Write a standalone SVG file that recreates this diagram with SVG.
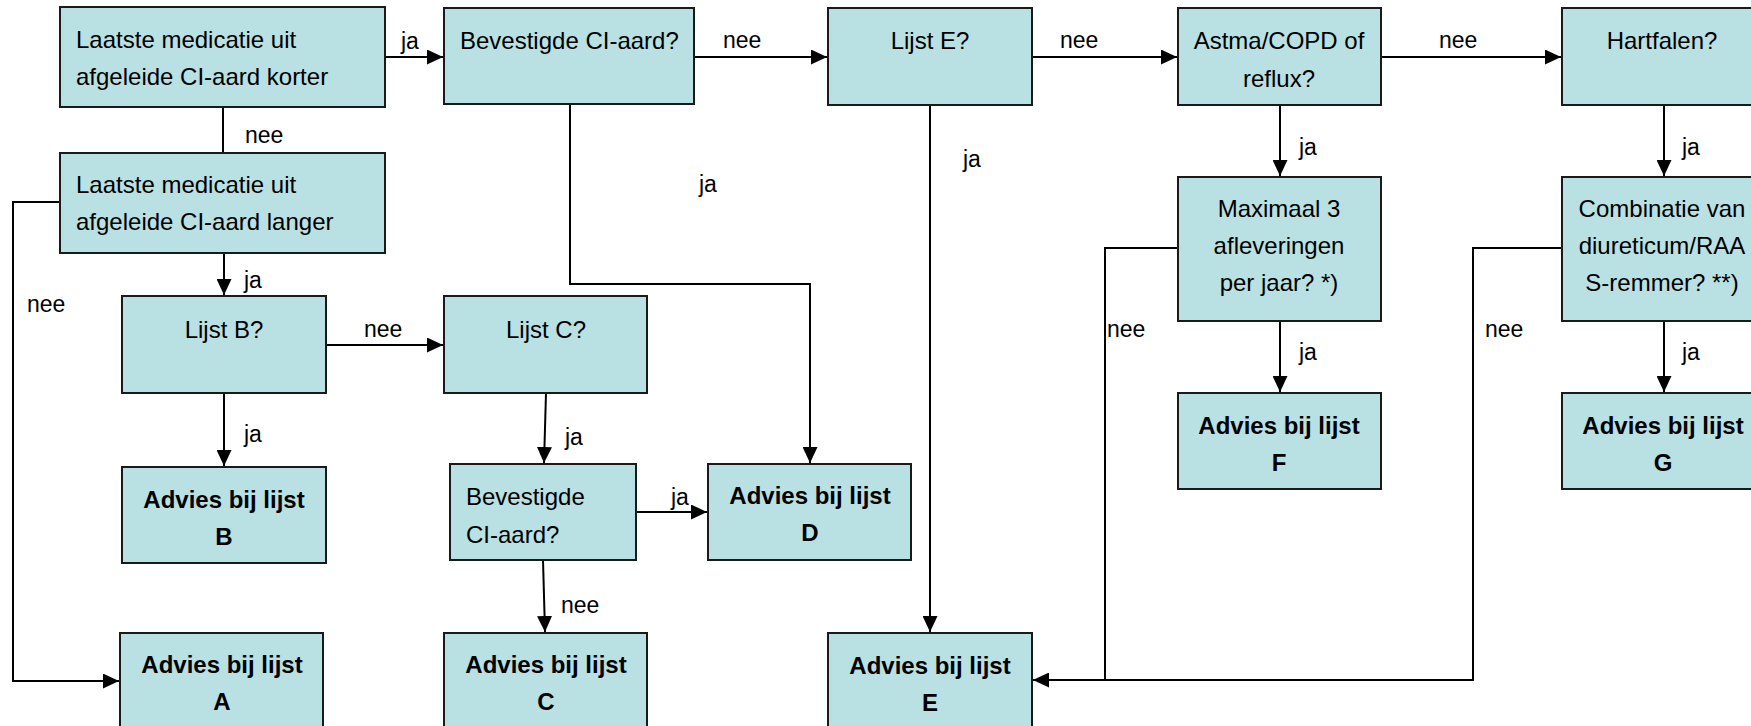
<svg xmlns="http://www.w3.org/2000/svg" width="1751" height="726" viewBox="0 0 1751 726">
<style>
.box{fill:#B9E0E3;stroke:#1a1a1a;stroke-width:2}
.t{font-family:"Liberation Sans",Arial,sans-serif;font-size:24px;fill:#000}
.c{text-anchor:middle}
.b{font-weight:bold}
.ln{fill:none;stroke:#000;stroke-width:2}
.lbl{font-family:"Liberation Sans",Arial,sans-serif;font-size:23px;fill:#000}
</style>
<defs>
<marker id="ah" markerUnits="userSpaceOnUse" markerWidth="17" markerHeight="15" refX="16" refY="7.5" orient="auto">
<path d="M0,0 L16,7.5 L0,15 z" fill="#000"/>
</marker>
</defs>
<rect width="1751" height="726" fill="#fff"/>

<g id="connectors">
<path class="ln" d="M385,57 H443" marker-end="url(#ah)"/>
<path class="ln" d="M223,107 V153"/>
<path class="ln" d="M694,57 H827" marker-end="url(#ah)"/>
<path class="ln" d="M1032,57 H1177" marker-end="url(#ah)"/>
<path class="ln" d="M1381,57 H1561" marker-end="url(#ah)"/>
<path class="ln" d="M1280,105 V176" marker-end="url(#ah)"/>
<path class="ln" d="M1664,105 V176" marker-end="url(#ah)"/>
<path class="ln" d="M1280,321 V392" marker-end="url(#ah)"/>
<path class="ln" d="M1664,321 V392" marker-end="url(#ah)"/>
<path class="ln" d="M1178,248 H1105 V680 H1033" marker-end="url(#ah)"/>
<path class="ln" d="M1562,248 H1473 V680 H1105"/>
<path class="ln" d="M930,105 V632" marker-end="url(#ah)"/>
<path class="ln" d="M570,104 V284 H810 V463" marker-end="url(#ah)"/>
<path class="ln" d="M224,253 V295" marker-end="url(#ah)"/>
<path class="ln" d="M60,202 H13 V681 H119" marker-end="url(#ah)"/>
<path class="ln" d="M326,345 H443" marker-end="url(#ah)"/>
<path class="ln" d="M224,393 V466" marker-end="url(#ah)"/>
<path class="ln" d="M546,393 L544,463" marker-end="url(#ah)"/>
<path class="ln" d="M636,512 H707" marker-end="url(#ah)"/>
<path class="ln" d="M543,560 L545,632" marker-end="url(#ah)"/>
<text class="lbl" x="401" y="49">ja</text>
<text class="lbl" x="245" y="143">nee</text>
<text class="lbl" x="723" y="48">nee</text>
<text class="lbl" x="1060" y="48">nee</text>
<text class="lbl" x="1439" y="48">nee</text>
<text class="lbl" x="1299" y="155">ja</text>
<text class="lbl" x="1682" y="155">ja</text>
<text class="lbl" x="1299" y="360">ja</text>
<text class="lbl" x="1682" y="360">ja</text>
<text class="lbl" x="1107" y="337">nee</text>
<text class="lbl" x="1485" y="337">nee</text>
<text class="lbl" x="963" y="167">ja</text>
<text class="lbl" x="699" y="192">ja</text>
<text class="lbl" x="244" y="288">ja</text>
<text class="lbl" x="27" y="312">nee</text>
<text class="lbl" x="364" y="337">nee</text>
<text class="lbl" x="244" y="442">ja</text>
<text class="lbl" x="565" y="445">ja</text>
<text class="lbl" x="671" y="505">ja</text>
<text class="lbl" x="561" y="613">nee</text>
</g>

<g id="n1"><rect class="box" x="60" y="7" width="325" height="100"/>
<text class="t" x="76" y="48">Laatste medicatie uit</text>
<text class="t" x="76" y="85">afgeleide CI-aard korter</text></g>

<g id="n2"><rect class="box" x="60" y="153" width="325" height="100"/>
<text class="t" x="76" y="193">Laatste medicatie uit</text>
<text class="t" x="76" y="230">afgeleide CI-aard langer</text></g>

<g id="n3"><rect class="box" x="444" y="8" width="250" height="96"/>
<text class="t" x="460" y="49">Bevestigde CI-aard?</text></g>

<g id="n4"><rect class="box" x="828" y="8" width="204" height="97"/>
<text class="t c" x="930" y="49">Lijst E?</text></g>

<g id="n5"><rect class="box" x="1178" y="8" width="203" height="97"/>
<text class="t c" x="1279" y="49">Astma/COPD of</text>
<text class="t c" x="1279" y="87">reflux?</text></g>

<g id="n6"><rect class="box" x="1562" y="8" width="203" height="97"/>
<text class="t c" x="1662" y="49">Hartfalen?</text></g>

<g id="n7"><rect class="box" x="1178" y="177" width="203" height="144"/>
<text class="t c" x="1279" y="217">Maximaal 3</text>
<text class="t c" x="1279" y="254">afleveringen</text>
<text class="t c" x="1279" y="291">per jaar? *)</text></g>

<g id="n8"><rect class="box" x="1562" y="177" width="203" height="144"/>
<text class="t c" x="1662" y="217">Combinatie van</text>
<text class="t c" x="1662" y="254">diureticum/RAA</text>
<text class="t c" x="1662" y="291">S-remmer? **)</text></g>

<g id="n9"><rect class="box" x="1178" y="393" width="203" height="96"/>
<text class="t c b" x="1279" y="434">Advies bij lijst</text>
<text class="t c b" x="1279" y="471">F</text></g>

<g id="n10"><rect class="box" x="1562" y="393" width="203" height="96"/>
<text class="t c b" x="1663" y="434">Advies bij lijst</text>
<text class="t c b" x="1663" y="471">G</text></g>

<g id="n11"><rect class="box" x="122" y="296" width="204" height="97"/>
<text class="t c" x="224" y="338">Lijst B?</text></g>

<g id="n12"><rect class="box" x="444" y="296" width="203" height="97"/>
<text class="t c" x="546" y="338">Lijst C?</text></g>

<g id="n13"><rect class="box" x="122" y="467" width="204" height="96"/>
<text class="t c b" x="224" y="508">Advies bij lijst</text>
<text class="t c b" x="224" y="545">B</text></g>

<g id="n14"><rect class="box" x="450" y="464" width="186" height="96"/>
<text class="t" x="466" y="505">Bevestigde</text>
<text class="t" x="466" y="543">CI-aard?</text></g>

<g id="n15"><rect class="box" x="708" y="464" width="203" height="96"/>
<text class="t c b" x="810" y="504">Advies bij lijst</text>
<text class="t c b" x="810" y="541">D</text></g>

<g id="n16"><rect class="box" x="120" y="633" width="203" height="100"/>
<text class="t c b" x="222" y="673">Advies bij lijst</text>
<text class="t c b" x="222" y="710">A</text></g>

<g id="n17"><rect class="box" x="444" y="633" width="203" height="100"/>
<text class="t c b" x="546" y="673">Advies bij lijst</text>
<text class="t c b" x="546" y="710">C</text></g>

<g id="n18"><rect class="box" x="828" y="633" width="204" height="100"/>
<text class="t c b" x="930" y="674">Advies bij lijst</text>
<text class="t c b" x="930" y="711">E</text></g>
</svg>
